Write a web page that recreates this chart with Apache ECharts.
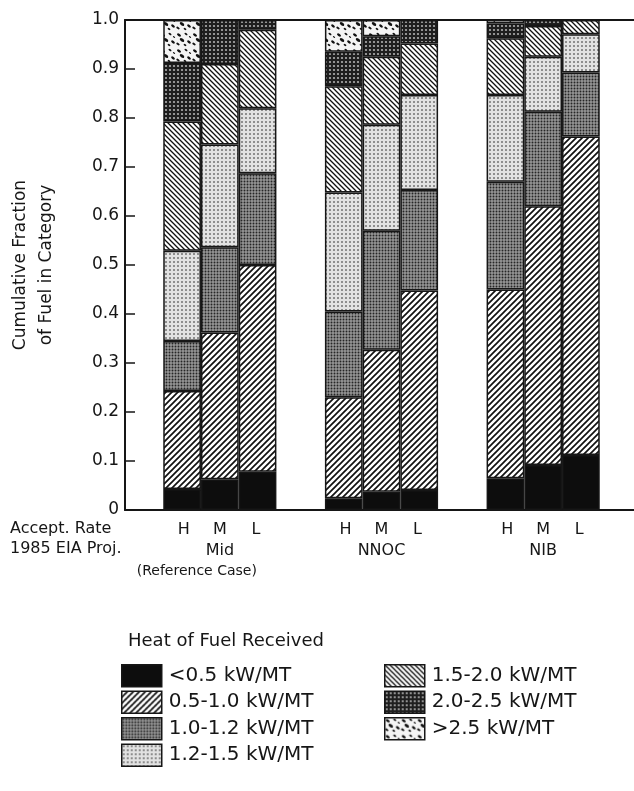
<!DOCTYPE html>
<html>
<head>
<meta charset="utf-8">
<title>Cumulative Fraction of Fuel in Category</title>
<script src="https://cdn.jsdelivr.net/npm/echarts@6/dist/echarts.min.js"></script>
<style>
html, body { margin: 0; padding: 0; background: #fff; }
#chart { width: 634px; height: 791px; }
</style>
</head>
<body>
<div id="chart"></div>
<script>
'use strict';

// bar groups (1985 EIA projection) and bars in each group (acceptance rate)
var projections = ['Mid', 'NNOC', 'NIB'];
var projNotes = ['(Reference Case)', '', ''];
var rates = ['H', 'M', 'L'];

// heat bands, bottom of the stack first
var bands = ['<0.5 kW/MT', '0.5-1.0 kW/MT', '1.0-1.2 kW/MT', '1.2-1.5 kW/MT',
    '1.5-2.0 kW/MT', '2.0-2.5 kW/MT', '>2.5 kW/MT'];

// fraction of fuel in each band
// order: Mid H, M, L / NNOC H, M, L / NIB H, M, L
var below05 = [0.043, 0.063, 0.078, 0.024, 0.037, 0.041, 0.065, 0.092, 0.112];
var from05to10 = [0.200, 0.299, 0.422, 0.206, 0.290, 0.407, 0.385, 0.528, 0.650];
var from10to12 = [0.102, 0.174, 0.187, 0.175, 0.243, 0.205, 0.220, 0.193, 0.131];
var from12to15 = [0.184, 0.210, 0.133, 0.243, 0.216, 0.194, 0.177, 0.112, 0.078];
var from15to20 = [0.264, 0.164, 0.160, 0.217, 0.139, 0.105, 0.116, 0.063, 0.029];
var from20to25 = [0.119, 0.090, 0.020, 0.070, 0.042, 0.048, 0.030, 0.012, 0];
var above25 = [0.088, 0, 0, 0.065, 0.033, 0, 0.007, 0, 0];

var bandData = [below05, from05to10, from10to12, from12to15, from15to20, from20to25, above25];

var FONT = 'DejaVu Sans';
var INK = '#161616';

// ---- fill patterns ----
function tile(w, h, draw) {
    var c = document.createElement('canvas');
    c.width = w;
    c.height = h;
    draw(c.getContext('2d'), w, h);
    return { image: c, repeat: 'repeat' };
}
function hatch(s, lw, back) {
    return tile(s, s, function (ctx) {
        ctx.fillStyle = '#fff';
        ctx.fillRect(0, 0, s, s);
        ctx.strokeStyle = '#111';
        ctx.lineWidth = lw;
        ctx.beginPath();
        if (back) {
            ctx.moveTo(-1, -1); ctx.lineTo(s + 1, s + 1);
            ctx.moveTo(s - 1, -1); ctx.lineTo(s + 1, 1);
            ctx.moveTo(-1, s - 1); ctx.lineTo(1, s + 1);
        } else {
            ctx.moveTo(-1, s + 1); ctx.lineTo(s + 1, -1);
            ctx.moveTo(-1, 1); ctx.lineTo(1, -1);
            ctx.moveTo(s - 1, s + 1); ctx.lineTo(s + 1, s - 1);
        }
        ctx.stroke();
    });
}
function dots(s, r, bg, fg) {
    return tile(s, s, function (ctx) {
        ctx.fillStyle = bg;
        ctx.fillRect(0, 0, s, s);
        ctx.fillStyle = fg;
        ctx.beginPath();
        ctx.arc(s / 2, s / 2, r, 0, Math.PI * 2);
        ctx.fill();
    });
}
function speckle() {
    return tile(16, 16, function (ctx) {
        ctx.fillStyle = '#f4f4f4';
        ctx.fillRect(0, 0, 16, 16);
        ctx.fillStyle = '#111';
        var blobs = [[3, 3, 1.6], [10, 2, 1.2], [6, 8, 1.8], [13, 10, 1.5], [2, 12, 1.3], [9, 13, 1.1], [14, 5, 0.9]];
        blobs.forEach(function (b) {
            ctx.beginPath();
            ctx.ellipse(b[0], b[1], b[2] * 1.4, b[2] * 0.8, 0.6, 0, Math.PI * 2);
            ctx.fill();
        });
    });
}

var fills = [
    '#0d0d0d',
    hatch(6, 1.7, false),
    dots(3, 0.95, '#969696', '#262626'),
    dots(4, 0.95, '#e2e2e2', '#6a6a6a'),
    hatch(5, 1.3, true),
    dots(4, 1.1, '#1e1e1e', '#b0b0b0'),
    speckle()
];

// ---- series: one stack per acceptance rate ----
var series = [];
bands.forEach(function (name, b) {
    rates.forEach(function (rate, r) {
        series.push({
            name: name,
            type: 'bar',
            stack: rate,
            xAxisIndex: 1,
            yAxisIndex: 1,
            barCategoryGap: '30%',
            barGap: '0%',
            itemStyle: { color: fills[b], borderColor: INK, borderWidth: 1.5 },
            emphasis: { disabled: true },
            data: projections.map(function (p, g) {
                return bandData[b][g * 3 + r];
            })
        });
    });
});

var legendBase = {
    orient: 'vertical',
    top: 664,
    padding: 0,
    icon: 'rect',
    itemWidth: 40,
    itemHeight: 22,
    itemGap: 3,
    selectedMode: false,
    itemStyle: { borderColor: INK, borderWidth: 1.5 },
    textStyle: { fontFamily: FONT, fontSize: 20, lineHeight: 22, color: INK, padding: [0, 0, 0, 2] }
};

// frame lines (top and bottom) of the plot box
var frameLine = {
    gridIndex: 0,
    type: 'value',
    axisLine: { show: true, onZero: false, lineStyle: { color: INK, width: 2 } },
    axisTick: { show: false },
    axisLabel: { show: false },
    splitLine: { show: false }
};

var options = {
    animation: false,
    textStyle: { fontFamily: FONT, color: INK },
    title: {
        text: 'Heat of Fuel Received',
        left: 123,
        top: 627,
        textStyle: { fontFamily: FONT, fontSize: 18, fontWeight: 'normal', color: INK }
    },
    legend: [
        Object.assign({}, legendBase, { data: bands.slice(0, 4), left: 121 }),
        Object.assign({}, legendBase, { data: bands.slice(4), left: 384 })
    ],
    graphic: [{
        type: 'text',
        left: 10,
        top: 521,
        style: { text: 'Accept. Rate', font: '16px "' + FONT + '"', fill: INK }
    }, {
        type: 'text',
        left: 10,
        top: 541,
        style: { text: '1985 EIA Proj.', font: '16px "' + FONT + '"', fill: INK }
    }],
    grid: [{
        // frame with the y axis
        left: 123,
        top: 20,
        right: 0,
        height: 490
    }, {
        // bars
        left: 139,
        top: 20,
        width: 485,
        height: 490
    }],
    xAxis: [
        Object.assign({}, frameLine, { position: 'bottom' }),
        {
            gridIndex: 1,
            type: 'category',
            data: projections,
            axisLine: { show: false },
            axisTick: { show: false },
            axisLabel: {
                margin: 10,
                interval: 0,
                formatter: function (val, idx) {
                    var s = rates.map(function (r) { return '{r|' + r + '}'; }).join('') + '\n{g|' + val + '}';
                    if (projNotes[idx]) {
                        s += '\n{n|' + projNotes[idx] + '}';
                    }
                    return s;
                },
                rich: {
                    r: { width: 36, align: 'center', fontSize: 16, lineHeight: 20, fontFamily: FONT, color: INK },
                    g: { align: 'center', fontSize: 16, lineHeight: 21, fontFamily: FONT, color: INK },
                    n: { align: 'center', fontSize: 14, lineHeight: 20, fontFamily: FONT, color: INK, padding: [0, 46, 0, 0] }
                }
            }
        },
        Object.assign({}, frameLine, { position: 'top' })
    ],
    yAxis: [{
        gridIndex: 0,
        type: 'value',
        min: 0,
        max: 1,
        interval: 0.1,
        name: 'Cumulative Fraction\nof Fuel in Category',
        nameLocation: 'middle',
        nameGap: 65,
        nameTextStyle: { fontFamily: FONT, fontSize: 17, lineHeight: 26, color: INK },
        axisLine: { show: true, lineStyle: { color: INK, width: 2 } },
        axisTick: { show: true, inside: true, length: 10, lineStyle: { color: INK, width: 1.5 } },
        axisLabel: {
            margin: 6,
            fontFamily: FONT,
            fontSize: 17,
            color: INK,
            formatter: function (v) {
                return v === 0 ? '0' : v.toFixed(1);
            }
        },
        splitLine: { show: false }
    }, {
        gridIndex: 1,
        type: 'value',
        min: 0,
        max: 1,
        show: false
    }],
    series: series
};

var myChart = echarts.init(document.getElementById('chart'));
myChart.setOption(options);
</script>
</body>
</html>
